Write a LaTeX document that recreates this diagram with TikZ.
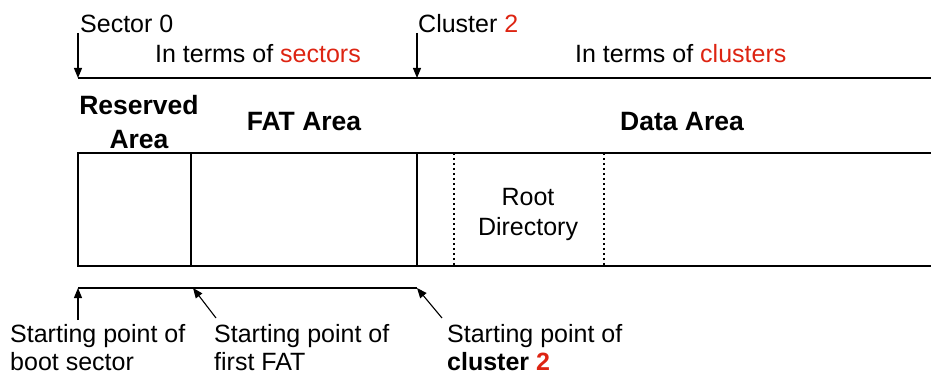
\documentclass[tikz,border=0pt]{standalone}
\usepackage{fontspec}
\setmainfont{Liberation Sans}
\usetikzlibrary{arrows.meta}
\definecolor{accent}{RGB}{221,36,18}
\begin{document}
\begin{tikzpicture}[x=1pt,y=-1pt,
  line/.style={line width=1.3pt},
  ptr/.style={line width=1.1pt,-{Triangle[length=10pt,width=8pt]}},
  divider/.style={line width=1.1pt,dash pattern=on 2.5pt off 2.5pt},
  lbl/.style={font=\fontsize{25}{30}\selectfont,inner sep=0pt},
  head/.style={font=\fontsize{26.5}{32}\selectfont\bfseries,inner sep=0pt}]
\useasboundingbox (0,0) rectangle (931,371);
% scale markers above the layout
\coordinate (s0) at (78,78);
\coordinate (c2) at (417,78);
\coordinate (rend) at (931,78);
\draw[line] (s0) -- (rend);
\node[lbl,anchor=base west] (sec0) at (80,33) {Sector 0};
\node[lbl,anchor=base west] (clu2) at (418,33) {Cluster {\color{accent}2}};
\coordinate (s0top) at (78,33);
\coordinate (c2top) at (417,33);
\draw[ptr] (s0top) -- (s0);
\draw[ptr] (c2top) -- (c2);
\node[lbl,anchor=base west] (tsec) at (155,63) {In terms of {\color{accent}sectors}};
\node[lbl,anchor=base west] (tclu) at (575,63) {In terms of {\color{accent}clusters}};
% area headings
\node[head,anchor=base] (hres1) at (139,115) {Reserved};
\node[head,anchor=base] (hres2) at (139,149) {Area};
\node[head,anchor=base] (hfat) at (304,131) {FAT Area};
\node[head,anchor=base] (hdata) at (682,131) {Data Area};
% layout strip
\coordinate (tl) at (78,153);
\coordinate (bl) at (78,266);
\coordinate (tr) at (931,153);
\coordinate (br) at (931,266);
\draw[line] (tr) -- (tl) -- (bl) -- (br);
\draw[line] (191,153) -- (191,266);
\draw[line] (417,153) -- (417,266);
\draw[divider] (454,153) -- (454,266);
\draw[divider] (604,153) -- (604,266);
\node[lbl,anchor=base] (root1) at (528,206) {Root};
\node[lbl,anchor=base] (root2) at (528,236) {Directory};
% starting points
\coordinate (p0) at (78,288);
\coordinate (p1) at (193,288);
\coordinate (p2) at (417,288);
\draw[line] (p0) -- (p2);
\coordinate (q0) at (78,320);
\coordinate (q1) at (216,318);
\coordinate (q2) at (442,318);
\draw[ptr] (q0) -- (p0);
\draw[ptr] (q1) -- (p1);
\draw[ptr] (q2) -- (p2);
\node[lbl,anchor=base west] (sboot1) at (10,342) {Starting point of};
\node[lbl,anchor=base west] (sboot2) at (10,370) {boot sector};
\node[lbl,anchor=base west] (sfat1) at (214,342) {Starting point of};
\node[lbl,anchor=base west] (sfat2) at (214,370) {first FAT};
\node[lbl,anchor=base west] (sclu1) at (447,342) {Starting point of};
\node[lbl,anchor=base west] (sclu2) at (447,370) {\bfseries cluster {\color{accent}2}};
\end{tikzpicture}
\end{document}
